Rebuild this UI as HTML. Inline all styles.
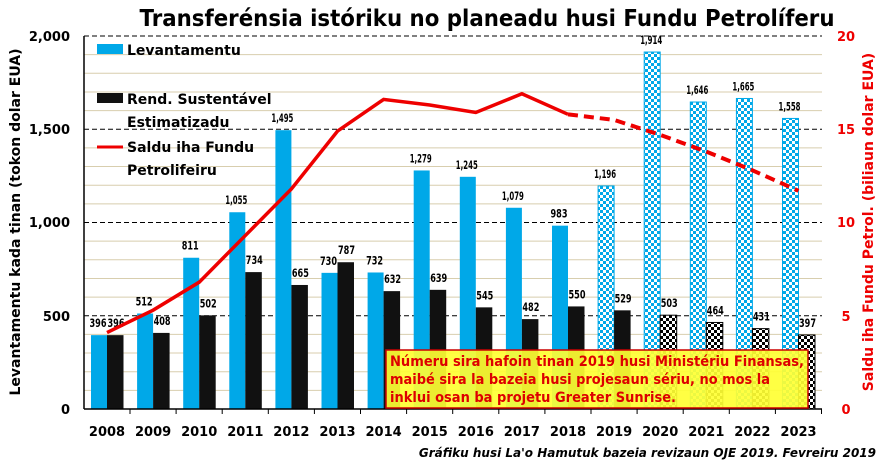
<!DOCTYPE html>
<html><head><meta charset="utf-8"><style>
body{margin:0;background:#fff;}
svg{display:block;font-family:"DejaVu Sans","Liberation Sans",sans-serif;}
</style></head><body>
<svg width="883" height="466" xmlns="http://www.w3.org/2000/svg">
<defs>
<pattern id="pb" width="6" height="6" patternUnits="userSpaceOnUse"><rect width="6" height="6" fill="#fff"/><rect width="3" height="3" fill="#00a8e8"/><rect x="3" y="3" width="3" height="3" fill="#00a8e8"/></pattern>
<pattern id="pk" width="6" height="6" patternUnits="userSpaceOnUse"><rect width="6" height="6" fill="#fff"/><rect width="3" height="3" fill="#000"/><rect x="3" y="3" width="3" height="3" fill="#000"/></pattern>
</defs>
<text x="487" y="26" text-anchor="middle" font-size="23" font-weight="bold" textLength="695" lengthAdjust="spacingAndGlyphs">Transferénsia istóriku no planeadu husi Fundu Petrolíferu</text>
<g id="grid"></g>
<g id="bars"></g>
<line x1="84" y1="36" x2="84" y2="409" stroke="#000" stroke-width="1.5"/>
<line x1="84" y1="409" x2="822" y2="409" stroke="#000" stroke-width="1.5"/>
<g font-size="13" font-weight="bold" text-anchor="end">
<text x="70" y="41">2,000</text><text x="70" y="134">1,500</text><text x="70" y="227">1,000</text><text x="70" y="321">500</text><text x="70" y="414">0</text>
</g>
<g font-size="13" font-weight="bold" fill="#e00" text-anchor="middle">
<text x="846" y="41">20</text><text x="846" y="134">15</text><text x="846" y="227">10</text><text x="846" y="321">5</text><text x="846" y="414">0</text>
</g>
<text transform="translate(20,222) rotate(-90)" text-anchor="middle" font-size="14" font-weight="bold">Levantamentu kada tinan (tokon dolar EUA)</text>
<text transform="translate(873,222) rotate(-90)" text-anchor="middle" font-size="14" font-weight="bold" fill="#e00">Saldu iha Fundu Petrol. (biliaun dolar EUA)</text>
<g id="line"></g>
<rect x="97" y="44" width="26" height="10" fill="#00a8e8"/>
<text x="127" y="55" font-size="14" font-weight="bold">Levantamentu</text>
<rect x="97" y="93" width="26" height="10" fill="#111"/>
<text x="127" y="104" font-size="14" font-weight="bold">Rend. Sustentável</text>
<text x="127" y="127" font-size="14" font-weight="bold">Estimatizadu</text>
<line x1="97" y1="147" x2="123" y2="147" stroke="#e00" stroke-width="3"/>
<text x="127" y="152" font-size="14" font-weight="bold">Saldu iha Fundu</text>
<text x="127" y="175" font-size="14" font-weight="bold">Petrolifeiru</text>
<rect x="386" y="350" width="422" height="58" fill="#ffff33" fill-opacity="0.92" stroke="#c00" stroke-width="1.5"/>
<g font-size="14" font-weight="bold" fill="#d00">
<text x="390" y="366" textLength="414" lengthAdjust="spacingAndGlyphs">Númeru sira hafoin tinan 2019 husi Ministériu Finansas,</text>
<text x="390" y="384" textLength="380" lengthAdjust="spacingAndGlyphs">maibé sira la bazeia husi projesaun sériu, no mos la</text>
<text x="390" y="402" textLength="286" lengthAdjust="spacingAndGlyphs">inklui osan ba projetu Greater Sunrise.</text>
</g>
<text x="876" y="457" text-anchor="end" font-size="12" font-weight="bold" font-style="italic">Gráfiku husi La'o Hamutuk bazeia revizaun OJE 2019. Fevreiru 2019</text>
<g id="xl" font-size="13" font-weight="bold" text-anchor="middle"></g>
</svg>
<script>
var ns="http://www.w3.org/2000/svg";
function el(p,t,a,tx){var e=document.createElementNS(ns,t);for(var k in a)e.setAttribute(k,a[k]);if(tx!=null)e.textContent=tx;document.getElementById(p).appendChild(e);return e;}
function Y(v){return 409-v*0.1865;}
for(var v=100;v<=2000;v+=100){var maj=v%500==0;el("grid","line",{x1:84,x2:822,y1:Y(v),y2:Y(v),stroke:maj?"#000":"#d8ceae","stroke-width":1,"stroke-dasharray":maj?"5,3":"none"});}
var B=[396,512,811,1055,1495,730,732,1279,1245,1079,983,1196,1914,1646,1665,1558];
var K=[396,408,502,734,665,787,632,639,545,482,550,529,503,464,431,397];
var S=[4.1,5.3,6.8,9.3,11.8,14.9,16.6,16.3,15.9,16.9,15.8,15.5,14.7,13.8,12.8,11.7];
function fmt(n){return n>=1000?Math.floor(n/1000)+","+String(n%1000).padStart(3,"0"):""+n;}
for(var i=0;i<16;i++){var c=107+46.1*i;
el("bars","rect",{x:c-16,y:Y(B[i]),width:16,height:B[i]*0.1865,fill:i>=11?"url(#pb)":"#00a8e8",stroke:i>=11?"#00a8e8":"none"});
el("bars","rect",{x:c,y:Y(K[i]),width:16.5,height:K[i]*0.1865,fill:i>=12?"url(#pk)":"#111",stroke:i>=12?"#000":"none"});
el("bars","text",{x:c-9,y:Y(B[i])-8,"font-size":11.5,"font-weight":"bold","text-anchor":"middle",textLength:fmt(B[i]).length>3?22:17,lengthAdjust:"spacingAndGlyphs"},fmt(B[i]));
el("bars","text",{x:c+9,y:Y(K[i])-8,"font-size":11.5,"font-weight":"bold","text-anchor":"middle",textLength:17,lengthAdjust:"spacingAndGlyphs"},fmt(K[i]));
el("xl","text",{x:c,y:436},String(2008+i));
el("bars","line",{x1:c+23,x2:c+23,y1:409,y2:414,stroke:"#000"});}
function P(i){return (107+46.1*i)+","+(409-S[i]*18.65);}
var a=[],b=[];for(var i=0;i<=10;i++)a.push(P(i));for(var i=10;i<16;i++)b.push(P(i));
el("line","polyline",{points:a.join(" "),fill:"none",stroke:"#e00","stroke-width":3.5});
el("line","polyline",{points:b.join(" "),fill:"none",stroke:"#e00","stroke-width":4,"stroke-dasharray":"10,6"});
</script>
</body></html>
